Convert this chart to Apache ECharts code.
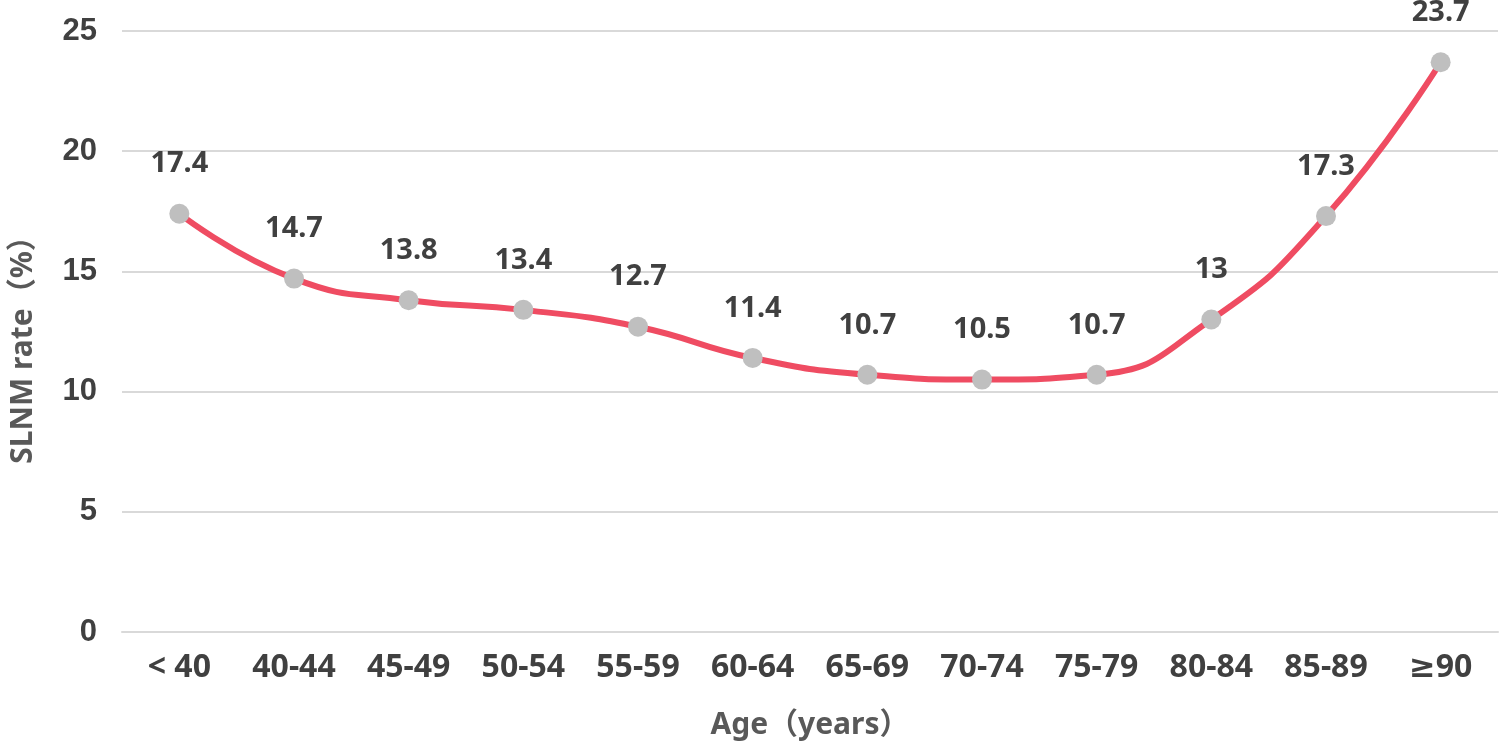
<!DOCTYPE html>
<html>
<head>
<meta charset="utf-8">
<script src="https://cdn.jsdelivr.net/npm/echarts@6/dist/echarts.min.js"></script>
<style>
  html, body { margin: 0; padding: 0; background: #fff; }
  #chart { width: 1499px; height: 751px; }
</style>
</head>
<body>
<div id="chart"></div>
<script>
// age groups and SLNM rate (%)
let ageGroups = ['< 40', '40-44', '45-49', '50-54', '55-59', '60-64', '65-69', '70-74', '75-79', '80-84', '85-89', '≥90']
let slnmRate = [17.4, 14.7, 13.8, 13.4, 12.7, 11.4, 10.7, 10.5, 10.7, 13, 17.3, 23.7]
let yTicks = [0, 5, 10, 15, 20, 25]

let textFont = '"Noto Sans", "DejaVu Sans", "Noto Sans CJK SC", sans-serif'

let myChart = echarts.init(document.getElementById('chart'))
let option = {
    animation: false,
    grid: {
        left: 122,
        right: 1,
        top: 31,
        bottom: 119
    },
    xAxis: {
        type: 'category',
        data: ageGroups,
        name: 'Age（years）',
        nameLocation: 'middle',
        nameGap: 78,
        nameTextStyle: {
            color: '#595959',
            fontSize: 30,
            fontWeight: 'bold',
            fontFamily: textFont
        },
        axisLine: {
            show: true,
            lineStyle: { color: '#D9D9D9', width: 2 }
        },
        axisTick: { show: false },
        axisLabel: {
            color: '#404040',
            fontSize: 32,
            fontWeight: 'bold',
            fontFamily: textFont,
            margin: 20,
            interval: 0
        }
    },
    yAxis: {
        type: 'value',
        min: yTicks[0],
        max: yTicks[yTicks.length - 1],
        interval: 5,
        name: 'SLNM rate（%）',
        nameLocation: 'middle',
        nameRotate: 90,
        nameGap: 84,
        nameTextStyle: {
            color: '#595959',
            fontSize: 30,
            fontWeight: 'bold',
            fontFamily: textFont,
            padding: [0, 22, 0, 0]
        },
        axisLine: { show: false },
        axisTick: { show: false },
        axisLabel: {
            color: '#404040',
            fontSize: 31,
            fontWeight: 'bold',
            fontFamily: '"Liberation Sans", Arial, sans-serif',
            margin: 25
        },
        splitLine: {
            show: true,
            lineStyle: { color: '#D9D9D9', width: 2 }
        }
    },
    series: [
        {
            name: 'SLNM rate',
            type: 'line',
            data: slnmRate,
            smooth: 0.5,
            symbol: 'circle',
            symbolSize: 20,
            lineStyle: { color: '#EF4C62', width: 6 },
            itemStyle: { color: '#BFBFBF' },
            label: {
                show: true,
                position: 'top',
                distance: 25,
                color: '#404040',
                fontSize: 29,
                fontWeight: 'bold',
                fontFamily: textFont
            }
        }
    ]
}
myChart.setOption(option)
</script>
</body>
</html>
